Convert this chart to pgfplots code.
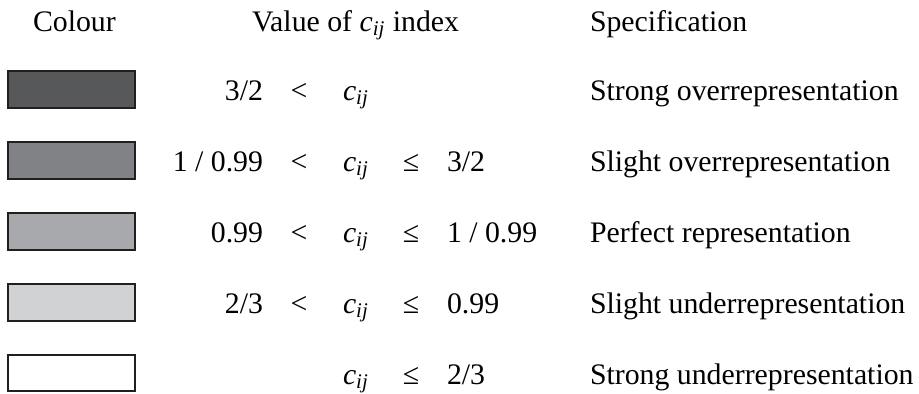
\documentclass[border=0pt]{standalone}
\usepackage{fontspec}
\setmainfont{Liberation Serif}
\usepackage{pgfplots}
\pgfplotsset{compat=1.18}

\definecolor{EdgeCol}{RGB}{35,31,32}
\definecolor{ShadeA}{RGB}{86,88,90}
\definecolor{ShadeB}{RGB}{128,130,133}
\definecolor{ShadeC}{RGB}{168,169,172}
\definecolor{ShadeD}{RGB}{209,210,212}

\newcommand{\cij}{\textit{c}\textsubscript{\textit{ij}}}
\tikzset{lbl/.style={font=\fontsize{14.9}{17}\selectfont, inner sep=0pt, outer sep=0pt}}

\begin{document}
\begin{tikzpicture}
\begin{axis}[
    width=459.5pt, height=196.5pt, scale only axis,
    xmin=0, xmax=919, ymin=0, ymax=393, y dir=reverse,
    hide axis, clip=false,
    swatch/.style={draw=EdgeCol, line width=1pt, line join=miter, mark=none},
  ]
  \path (axis cs:0,0) rectangle (axis cs:919,393);

  % colour swatches (pixel coordinates of the reference)
  \addplot[swatch, fill=ShadeA] coordinates {(7.5,70.5) (134.5,70.5) (134.5,107.5) (7.5,107.5)} -- cycle;
  \addplot[swatch, fill=ShadeB] coordinates {(7.5,141.5) (134.5,141.5) (134.5,178.5) (7.5,178.5)} -- cycle;
  \addplot[swatch, fill=ShadeC] coordinates {(7.5,212.5) (134.5,212.5) (134.5,249.5) (7.5,249.5)} -- cycle;
  \addplot[swatch, fill=ShadeD] coordinates {(7.5,283.5) (134.5,283.5) (134.5,320.5) (7.5,320.5)} -- cycle;
  \addplot[swatch, fill=white]  coordinates {(7.5,354.5) (134.5,354.5) (134.5,390.5) (7.5,390.5)} -- cycle;

  % headers
  \node[lbl, anchor=base west] at (axis cs:33,31) {Colour};
  \node[lbl, anchor=base west] at (axis cs:252,31) {Value of \cij{} index};
  \node[lbl, anchor=base west] at (axis cs:590,31) {Specification};

  % row 1
  \node[lbl, anchor=base east] at (axis cs:263,100) {3/2};
  \node[lbl, anchor=base] at (axis cs:299,100) {<};
  \node[lbl, anchor=base west] at (axis cs:343,100) {\cij};
  \node[lbl, anchor=base west] at (axis cs:590,100) {Strong overrepresentation};
  % row 2
  \node[lbl, anchor=base east] at (axis cs:263,171) {1 / 0.99};
  \node[lbl, anchor=base] at (axis cs:299,171) {<};
  \node[lbl, anchor=base west] at (axis cs:343,171) {\cij};
  \node[lbl, anchor=base] at (axis cs:411,171) {≤};
  \node[lbl, anchor=base west] at (axis cs:447,171) {3/2};
  \node[lbl, anchor=base west] at (axis cs:590,171) {Slight overrepresentation};
  % row 3
  \node[lbl, anchor=base east] at (axis cs:263,242) {0.99};
  \node[lbl, anchor=base] at (axis cs:299,242) {<};
  \node[lbl, anchor=base west] at (axis cs:343,242) {\cij};
  \node[lbl, anchor=base] at (axis cs:411,242) {≤};
  \node[lbl, anchor=base west] at (axis cs:447,242) {1 / 0.99};
  \node[lbl, anchor=base west] at (axis cs:590,242) {Perfect representation};
  % row 4
  \node[lbl, anchor=base east] at (axis cs:263,313) {2/3};
  \node[lbl, anchor=base] at (axis cs:299,313) {<};
  \node[lbl, anchor=base west] at (axis cs:343,313) {\cij};
  \node[lbl, anchor=base] at (axis cs:411,313) {≤};
  \node[lbl, anchor=base west] at (axis cs:447,313) {0.99};
  \node[lbl, anchor=base west] at (axis cs:590,313) {Slight underrepresentation};
  % row 5
  \node[lbl, anchor=base west] at (axis cs:343,384) {\cij};
  \node[lbl, anchor=base] at (axis cs:411,384) {≤};
  \node[lbl, anchor=base west] at (axis cs:447,384) {2/3};
  \node[lbl, anchor=base west] at (axis cs:590,384) {Strong underrepresentation};
\end{axis}
\end{tikzpicture}
\end{document}
